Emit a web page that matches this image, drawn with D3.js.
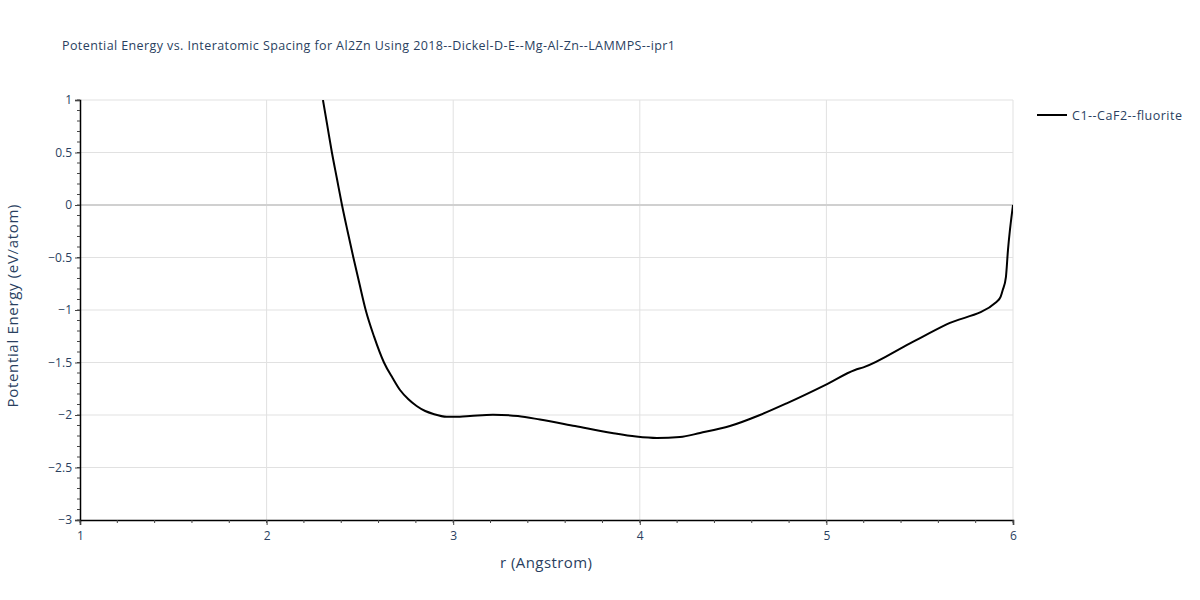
<!DOCTYPE html>
<html><head><meta charset="utf-8">
<script src="https://cdn.jsdelivr.net/npm/d3@7"></script>
<style>body{margin:0;background:#fff;} text{font-family:"Open Sans",verdana,arial,sans-serif;}</style>
</head><body>
<svg id="chart" width="1200" height="600"></svg>
<script>
const titleText = "Potential Energy vs. Interatomic Spacing for Al2Zn Using 2018--Dickel-D-E--Mg-Al-Zn--LAMMPS--ipr1";
const seriesName = "C1--CaF2--fluorite";
const xTicks = [1, 2, 3, 4, 5, 6];
const yTicks = [1, 0.5, 0, -0.5, -1, -1.5, -2, -2.5, -3];
const rValues = [2.302, 2.325, 2.35, 2.377, 2.404, 2.434, 2.465, 2.497, 2.531, 2.576, 2.629, 2.676, 2.715, 2.76, 2.804, 2.85, 2.894, 2.965, 3.036, 3.09, 3.213, 3.347, 3.465, 3.653, 3.851, 3.98, 4.092, 4.215, 4.323, 4.483, 4.644, 4.787, 5.001, 5.153, 5.198, 5.448, 5.644, 5.913, 5.934, 5.945, 5.962, 5.973, 6.0];
const eValues = [1.0, 0.76, 0.5, 0.25, 0.0, -0.25, -0.5, -0.746, -1.0, -1.254, -1.5, -1.65, -1.762, -1.85, -1.914, -1.962, -1.99, -2.016, -2.016, -2.01, -1.997, -2.01, -2.043, -2.105, -2.171, -2.205, -2.219, -2.21, -2.171, -2.105, -2.0, -1.889, -1.708, -1.571, -1.546, -1.317, -1.137, -0.921, -0.873, -0.81, -0.686, -0.43, 0.0];

const svg = d3.select("#chart");
const L = 80, R = 1013, T = 100, B = 520;
const x = d3.scaleLinear().domain([1, 6]).range([L, R]);
const y = d3.scaleLinear().domain([-3, 1]).range([B, T]);
const textColor = "#2a3f5f";

// grid
svg.append("g").selectAll("line").data(xTicks.filter(d => d > 1)).join("line")
  .attr("x1", d => x(d)).attr("x2", d => x(d)).attr("y1", T).attr("y2", B)
  .attr("stroke", "#e1e1e1").attr("stroke-width", 1);
svg.append("g").selectAll("line").data(yTicks.filter(d => d !== 0 && d > -3)).join("line")
  .attr("x1", L).attr("x2", R).attr("y1", d => y(d)).attr("y2", d => y(d))
  .attr("stroke", "#e1e1e1").attr("stroke-width", 1);
svg.append("line").attr("x1", L).attr("x2", R).attr("y1", y(0)).attr("y2", y(0))
  .attr("stroke", "#d0d0d0").attr("stroke-width", 2);

// axes
const xAxis = d3.axisBottom(x).tickValues(xTicks).tickFormat(d3.format("d")).tickSize(5).tickPadding(6);
const gx = svg.append("g").attr("transform", `translate(0,${B})`).call(xAxis);
const yAxis = d3.axisLeft(y).tickValues(yTicks).tickFormat(d => d < 0 ? "\u2212" + Math.abs(d) : d).tickSize(5).tickPadding(3);
const gy = svg.append("g").attr("transform", `translate(${L},0)`).call(yAxis);
[gx, gy].forEach(g => {
  g.select(".domain").attr("stroke", "#000").attr("stroke-width", 1.5);
  g.selectAll(".tick line").attr("stroke", "#444");
  g.selectAll(".tick text").attr("fill", textColor).attr("font-size", 12);
});
// minor ticks
const xMinor = d3.range(1, 6.001, 0.2);
svg.append("g").selectAll("line").data(xMinor).join("line")
  .attr("x1", d => x(d)).attr("x2", d => x(d)).attr("y1", B).attr("y2", B + 3)
  .attr("stroke", "#444");
const yMinor = d3.range(-3, 1.001, 0.1);
svg.append("g").selectAll("line").data(yMinor).join("line")
  .attr("x1", L - 3).attr("x2", L).attr("y1", d => y(d)).attr("y2", d => y(d))
  .attr("stroke", "#444");

// line
const data = rValues.map((r, i) => ({r, e: eValues[i]}));
svg.append("defs").append("clipPath").attr("id", "clip").append("rect")
  .attr("x", L).attr("y", T).attr("width", R - L).attr("height", B - T);
svg.append("path").datum(data).attr("clip-path", "url(#clip)")
  .attr("fill", "none").attr("stroke", "#000").attr("stroke-width", 2)
  .attr("stroke-linejoin", "round")
  .attr("d", d3.line().x(d => x(d.r)).y(d => y(d.e)).curve(d3.curveMonotoneX));

// title
svg.append("text").attr("x", 62).attr("y", 50).attr("fill", textColor).attr("font-size", 12.5)
  .attr("textLength", 613).attr("lengthAdjust", "spacing").text(titleText);
// axis titles
svg.append("text").attr("x", 546).attr("y", 568).attr("text-anchor", "middle")
  .attr("fill", textColor).attr("font-size", 15).attr("textLength", 92).attr("lengthAdjust", "spacing").text("r (Angstrom)");
svg.append("text").attr("transform", `translate(18,306) rotate(-90)`).attr("text-anchor", "middle")
  .attr("fill", textColor).attr("font-size", 15).attr("textLength", 203).attr("lengthAdjust", "spacing").text("Potential Energy (eV/atom)");

// legend
svg.append("line").attr("x1", 1037).attr("x2", 1067).attr("y1", 115).attr("y2", 115)
  .attr("stroke", "#000").attr("stroke-width", 2);
svg.append("text").attr("x", 1072).attr("y", 119.5).attr("fill", textColor).attr("font-size", 12.5)
  .attr("textLength", 110).attr("lengthAdjust", "spacing").text(seriesName);
</script>
</body></html>
